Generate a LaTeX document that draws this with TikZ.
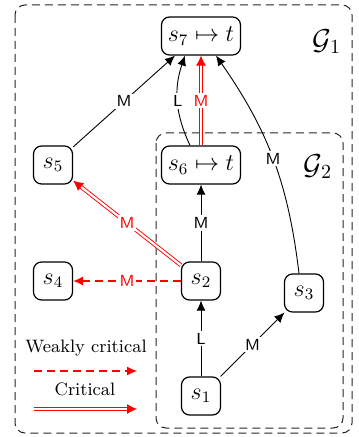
\documentclass[tikz,border=0pt]{standalone}
\usetikzlibrary{arrows.meta}
\begin{document}
\begin{tikzpicture}[x=0.5pt,y=-0.5pt,
  state/.style={draw, rounded corners=4pt, minimum width=19.5pt, minimum height=19pt, inner sep=1.5pt, font=\large, line width=0.6pt},
  wide/.style={state, minimum width=39.5pt},
  lab/.style={font=\sffamily\footnotesize, fill=white, inner sep=1pt},
  arr/.style={-{Latex[length=5pt,width=4.5pt]}, line width=0.45pt},
  crit/.style={-{Latex[length=5pt,width=5pt]}, color=red, double=white, double distance=1.1pt, line width=0.45pt},
  weak/.style={-{Latex[length=5pt,width=4.5pt]}, color=red, line width=0.55pt, dash pattern=on 4pt off 2.5pt},
  rlab/.style={lab, text=red},
  grp/.style={draw=black!85, dash pattern=on 4pt off 2.5pt, rounded corners=5pt, line width=0.5pt}
]
\useasboundingbox (0,0) rectangle (358,437);
\draw[grp] (15,5) rectangle (352,433);
\draw[grp] (156,133) rectangle (343,428);
\node (g1) at (327,42) {\Large $\mathcal{G}_1$};
\node (g2) at (318,167) {\Large $\mathcal{G}_2$};

\node[wide] (s7) at (201,36) {$s_7 \mapsto t$};
\node[wide] (s6) at (201,165) {$s_6 \mapsto t$};
\node[state] (s5) at (53,165) {$s_5$};
\node[state] (s4) at (53,281) {$s_4$};
\node[state] (s2) at (201,281) {$s_2$};
\node[state] (s3) at (304,293) {$s_3$};
\node[state] (s1) at (201,396) {$s_1$};

\draw[arr] (s5) -- node[lab] {M} ([xshift=-13pt]s7.south);
\draw[arr] ([xshift=-5.5pt]s6.north) to[bend left=22] node[lab] {L} ([xshift=-8pt]s7.south);
\draw[crit] (s6) -- node[rlab] {M} (s7);
\draw[arr] ([xshift=-2.5pt]s3.north) to[bend right=14] node[lab] {M} ([xshift=7.5pt]s7.south);
\draw[arr] (s2) -- node[lab] {M} (s6);
\draw[crit] (s2) -- node[rlab] {M} (s5);
\draw[weak] (s2) -- node[rlab] {M} (s4);
\draw[arr] (s1) -- node[lab] {L} (s2);
\draw[arr] (s1) -- node[lab] {M} (s3);

\node[font=\small] (wk) at (86,348) {Weakly critical};
\coordinate (wa) at (34,371);
\coordinate (wb) at (137,371);
\draw[weak] (wa) -- (wb);
\node[font=\small] (cr) at (85,389) {Critical};
\coordinate (ca) at (34,409);
\coordinate (cb) at (137,409);
\draw[crit] (ca) -- (cb);
\end{tikzpicture}
\end{document}
